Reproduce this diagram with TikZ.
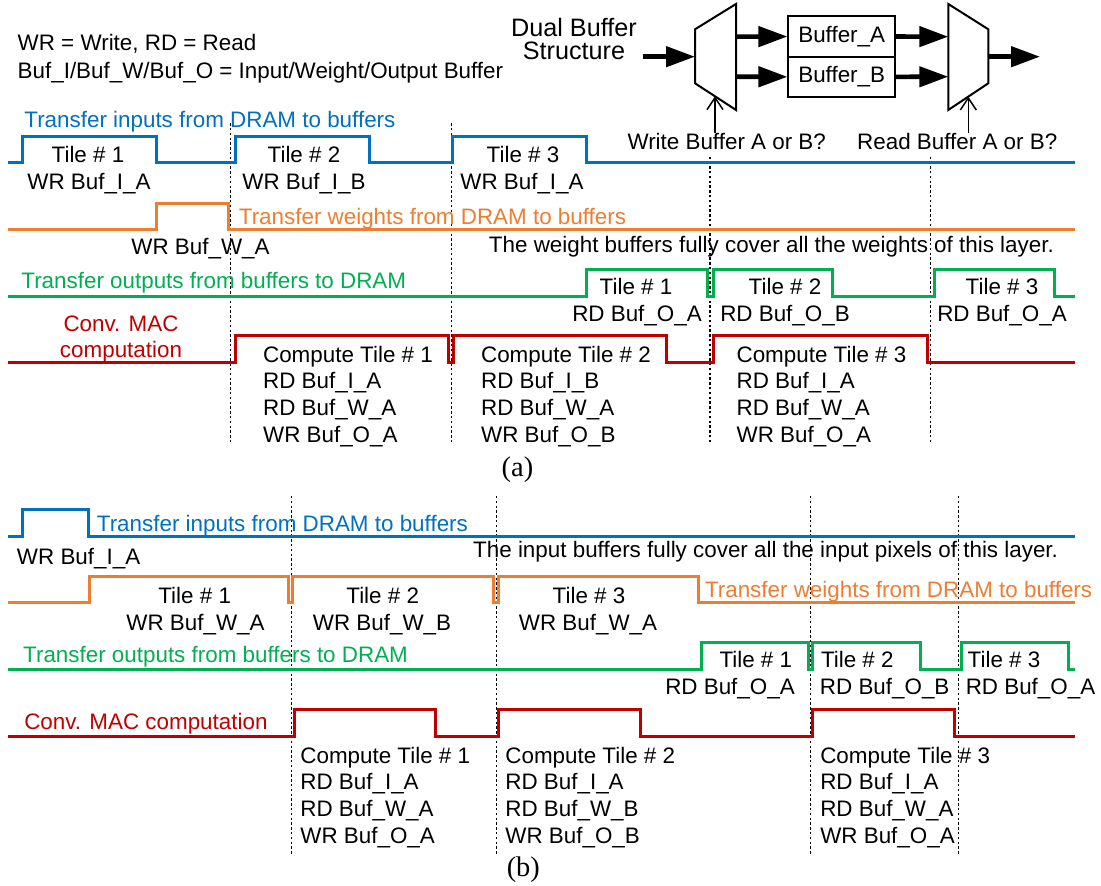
\documentclass[tikz,border=0pt]{standalone}
\usepackage{fontspec}
\setmainfont{Liberation Sans}
\newfontfamily\subcapfont{Liberation Serif}
\usetikzlibrary{arrows.meta}
\definecolor{wblue}{RGB}{0,112,192}
\definecolor{worange}{RGB}{237,125,49}
\definecolor{wgreen}{RGB}{0,176,80}
\definecolor{wred}{RGB}{192,0,0}

\begin{document}
\begin{tikzpicture}[x=0.5pt, y=-0.5pt,
    every node/.style={inner sep=0pt, font=\fontsize{11.2}{13.35}\selectfont},
    wave/.style={line width=1.5pt},
    guide/.style={line width=0.6pt, dash pattern=on 1.2pt off 1.2pt},
    fat/.style={line width=2.3pt, -{Triangle[length=14.5pt,width=10pt]}},
    sel/.style={line width=0.75pt, -{Straight Barb[length=6pt,width=8pt]}},
    mux/.style={line width=1pt},
    bufbox/.style={draw, line width=0.9pt, minimum width=53.35pt, minimum height=20.35pt},
    stack/.style={align=left, anchor=base west}]
  \useasboundingbox (0,0) rectangle (1101,886);

  % Legend
  \node[anchor=base west] (key1) at (17.3,50.7) {WR = Write, RD = Read};
  \node[anchor=base west] (key2) at (17.3,78.7) {Buf\_I/Buf\_W/Buf\_O = Input/Weight/Output Buffer};

  % Dual buffer structure (two muxes, two buffers)
  \node[align=center, anchor=base, font=\fontsize{12.6}{11.7}\selectfont] (dual) at (574,60) {Dual Buffer\\Structure};
  \draw[mux] (695,29.3) -- (736,4) -- (736,110) -- (695,83.3) -- cycle;
  \draw[mux] (948.3,4) -- (988.3,29.3) -- (988.3,83.3) -- (948.3,110) -- cycle;
  \node[bufbox] (bufA) at (841.7,36.35) {Buffer\_A};
  \node[bufbox] (bufB) at (841.7,77) {Buffer\_B};
  \coordinate (src) at (642.7,56.7);
  \coordinate (wrin) at (695,56.7);
  \coordinate (wra) at (736,36.7);
  \coordinate (wrb) at (736,76.7);
  \coordinate (rda) at (948.3,36.7);
  \coordinate (rdb) at (948.3,76.7);
  \coordinate (rdout) at (988.3,56.7);
  \coordinate (sink) at (1040,56.7);
  \coordinate (wrsel) at (715,96.3);
  \coordinate (rdsel) at (968.3,96.7);
  \draw[fat] (src) -- (wrin);
  \draw[fat] (wra) -- (bufA);
  \draw[fat] (wrb) -- (bufB);
  \draw[fat] (bufA) -- (rda);
  \draw[fat] (bufB) -- (rdb);
  \draw[fat] (rdout) -- (sink);
  \node[anchor=base] (wrq) at (726.7,149.7) {Write Buffer A or B?};
  \node[anchor=base] (rdq) at (957.2,149.7) {Read Buffer A or B?};
  \draw[sel] (wrq.north -| wrsel) -- (wrsel);
  \draw[sel] (rdq.north -| rdsel) -- (rdsel);

  % Dotted time marks
  \foreach \x in {230.7,451.7} \draw[guide] (\x,123.3) -- (\x,441.7);
  \foreach \x in {710,930.7} \draw[guide] (\x,156.7) -- (\x,441.7);
  \foreach \x in {291.4,496.2,810.7,958.3} \draw[guide] (\x,496) -- (\x,854);

  % (a) waveforms
  \draw[wave, wblue] (8.4,162.7) -| (22.7,136.7) -| (156,162.7) -| (235,136.7) -| (369,162.7) -| (452.7,136.7) -| (586.7,162.7) -- (1075,162.7);
  \draw[wave, worange] (8.4,229.7) -| (156,203.3) -| (228.7,229.7) -- (1075,229.7);
  \draw[wave, wgreen] (8.4,296.5) -| (586.9,270) -| (707,296.5) -| (713.4,270) -| (832.9,296.5) -| (934,270) -| (1054.9,296.5) -- (1075,296.5);
  \draw[wave, wred] (8.4,362.7) -| (235,336) -| (448.3,362.7) -| (453.3,336) -| (666.7,362.7) -| (713.4,336) -| (927.7,362.7) -- (1075,362.7);

  % (a) labels
  \node[wblue, anchor=base west] (ain) at (24,128) {Transfer inputs from DRAM to buffers};
  \node[anchor=base] (ain1) at (88,163) {Tile \# 1};
  \node[anchor=base] (ain2) at (304,163) {Tile \# 2};
  \node[anchor=base] (ain3) at (523,163) {Tile \# 3};
  \node[anchor=base] (ainb1) at (89,189.7) {WR Buf\_I\_A};
  \node[anchor=base] (ainb2) at (304,189.7) {WR Buf\_I\_B};
  \node[anchor=base] (ainb3) at (522,189.7) {WR Buf\_I\_A};
  \node[worange, anchor=base west] (awt) at (238.5,224.7) {Transfer weights from DRAM to buffers};
  \node[anchor=base] (awtb) at (200.5,254.7) {WR Buf\_W\_A};
  \node[anchor=base east] (awnote) at (1054.2,253) {The weight buffers fully cover all the weights of this layer.};
  \node[wgreen, anchor=base west] (aout) at (21,288.7) {Transfer outputs from buffers to DRAM};
  \node[anchor=base] (aout1) at (636,294.7) {Tile \# 1};
  \node[anchor=base] (aout2) at (785,294.7) {Tile \# 2};
  \node[anchor=base] (aout3) at (1002,294.7) {Tile \# 3};
  \node[anchor=base] (aoutb1) at (637,321.3) {RD Buf\_O\_A};
  \node[anchor=base] (aoutb2) at (785,321.3) {RD Buf\_O\_B};
  \node[anchor=base] (aoutb3) at (1002,321.3) {RD Buf\_O\_A};
  \node[wred, align=center, anchor=base] (amac) at (121,358) {Conv. MAC\\computation};
  \node[stack] (amac1) at (262.7,442.4) {Compute Tile \# 1\\RD Buf\_I\_A\\RD Buf\_W\_A\\WR Buf\_O\_A};
  \node[stack] (amac2) at (480.7,442.4) {Compute Tile \# 2\\RD Buf\_I\_B\\RD Buf\_W\_A\\WR Buf\_O\_B};
  \node[stack] (amac3) at (736.2,442.4) {Compute Tile \# 3\\RD Buf\_I\_A\\RD Buf\_W\_A\\WR Buf\_O\_A};
  \node[font=\subcapfont\fontsize{14.2}{17}\selectfont] (capa) at (517.5,470) {(a)};

  % (b) waveforms
  \draw[wave, wblue] (8.4,536) -| (22.8,509.3) -| (88.7,536) -- (1075,536);
  \draw[wave, worange] (8.4,602.7) -| (89.4,576) -| (288.3,602.7) -| (292.9,576) -| (493.9,602.7) -| (498.8,576) -| (698.6,602.7) -- (1075,602.7);
  \draw[wave, wgreen] (8.4,669.3) -| (701,642.7) -| (808.2,669.3) -| (812.8,642.7) -| (920,669.3) -| (961,642.7) -| (1068.3,669.3) -- (1075,669.3);
  \draw[wave, wred] (8.4,736) -| (294.3,709.3) -| (435,736) -| (498.3,709.3) -| (640.7,736) -| (812.8,709.3) -| (954.8,736) -- (1075,736);

  % (b) labels
  \node[wblue, anchor=base west] (bin) at (96.5,531.3) {Transfer inputs from DRAM to buffers};
  \node[anchor=base] (binb) at (78.6,564.7) {WR Buf\_I\_A};
  \node[anchor=base east] (binnote) at (1058.4,557.3) {The input buffers fully cover all the input pixels of this layer.};
  \node[anchor=base] (bwt1) at (194.7,603) {Tile \# 1};
  \node[anchor=base] (bwt2) at (382.7,603) {Tile \# 2};
  \node[anchor=base] (bwt3) at (589,603) {Tile \# 3};
  \node[anchor=base] (bwtb1) at (195.5,630.3) {WR Buf\_W\_A};
  \node[anchor=base] (bwtb2) at (382,630.3) {WR Buf\_W\_B};
  \node[anchor=base] (bwtb3) at (588,630.3) {WR Buf\_W\_A};
  \node[worange, anchor=base west] (bwt) at (704.6,597.3) {Transfer weights from DRAM to buffers};
  \node[wgreen, anchor=base west] (bout) at (22.8,662) {Transfer outputs from buffers to DRAM};
  \node[anchor=base] (bout1) at (755.8,667) {Tile \# 1};
  \node[anchor=base] (bout2) at (857.3,667) {Tile \# 2};
  \node[anchor=base] (bout3) at (1004,667) {Tile \# 3};
  \node[anchor=base] (boutb1) at (730,694) {RD Buf\_O\_A};
  \node[anchor=base] (boutb2) at (884.7,694) {RD Buf\_O\_B};
  \node[anchor=base] (boutb3) at (1030.5,694) {RD Buf\_O\_A};
  \node[wred, anchor=base west] (bmac) at (23.9,729.7) {Conv. MAC computation};
  \node[stack] (bmac1) at (300,843.1) {Compute Tile \# 1\\RD Buf\_I\_A\\RD Buf\_W\_A\\WR Buf\_O\_A};
  \node[stack] (bmac2) at (505,843.1) {Compute Tile \# 2\\RD Buf\_I\_A\\RD Buf\_W\_B\\WR Buf\_O\_B};
  \node[stack] (bmac3) at (819.9,843.1) {Compute Tile \# 3\\RD Buf\_I\_A\\RD Buf\_W\_A\\WR Buf\_O\_A};
  \node[font=\subcapfont\fontsize{14.2}{17}\selectfont] (capb) at (523.3,870) {(b)};
\end{tikzpicture}
\end{document}
